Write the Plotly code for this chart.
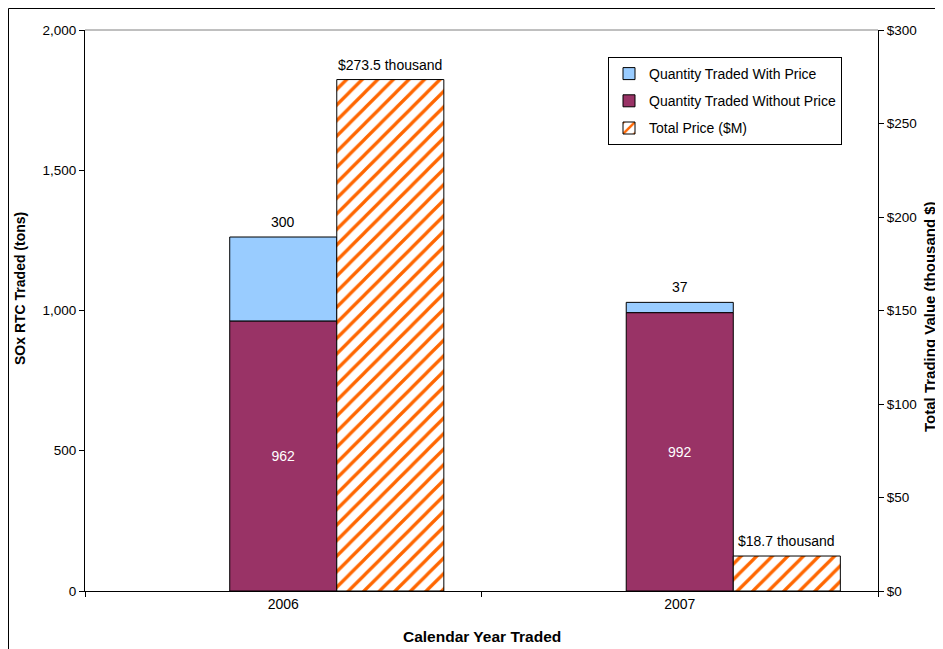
import plotly.graph_objects as go

years = ["2006", "2007"]
qty_with_price = [300, 37]
qty_without_price = [962, 992]
total_price_k = [273.5, 18.7]

FONT = "Liberation Sans, Arial, sans-serif"
# page has an 8px body margin; figure is drawn from (8, 8)
OFF = 8
W, H = 943 - OFF, 649 - OFF
ML, MR, MT, MB = 85 - OFF, 65, 30 - OFF, 58
PW, PH = W - ML - MR, H - MT - MB


def px_x(page_x):
    return (page_x - OFF - ML) / PW


def px_y(page_y):
    return 1 - (page_y - OFF - MT) / PH


BW = 0.27
FS = 14

fig = go.Figure()

fig.add_trace(go.Bar(
    x=years, y=qty_with_price, base=qty_without_price, name="Quantity Traded With Price",
    width=BW, offset=-BW / 2, marker=dict(color="#99CCFF", line=dict(color="black", width=1)),
    legendgroup="a", hoverinfo="skip",
))

fig.add_trace(go.Bar(
    x=years, y=qty_without_price, name="Quantity Traded Without Price",
    width=BW, offset=-BW / 2, marker=dict(color="#993366", line=dict(color="black", width=1)),
    text=[str(v) for v in qty_without_price], textposition="inside",
    insidetextanchor="middle", textfont=dict(color="white", size=FS, family=FONT),
    constraintext="none", legendgroup="b", hoverinfo="skip",
))

fig.add_trace(go.Bar(
    x=years, y=total_price_k, name="Total Price ($M)", yaxis="y2",
    width=BW, offset=BW / 2,
    marker=dict(color="white", line=dict(color="black", width=1),
                pattern=dict(shape="/", fgcolor="#FF6600", bgcolor="white",
                             size=11, solidity=0.3, fillmode="replace")),
    legendgroup="c", hoverinfo="skip",
))

# labels above bars, anchored to data values
for i, yr in enumerate(years):
    fig.add_annotation(x=i, y=qty_without_price[i] + qty_with_price[i], xref="x", yref="y",
                       text=str(qty_with_price[i]), showarrow=False, yanchor="bottom",
                       yshift=5, font=dict(size=FS, family=FONT, color="black"))
    fig.add_annotation(x=i + BW, y=total_price_k[i], xref="x", yref="y2",
                       text=f"${total_price_k[i]} thousand", showarrow=False, yanchor="bottom",
                       yshift=5, font=dict(size=FS, family=FONT, color="black"))

fig.update_layout(
    width=W, height=H,
    margin=dict(l=ML, r=MR, t=MT, b=MB, autoexpand=False),
    paper_bgcolor="white", plot_bgcolor="white",
    font=dict(family=FONT, size=FS, color="black"),
    barmode="overlay", showlegend=True,
    legend=dict(x=px_x(608), y=px_y(57), xanchor="left", yanchor="top",
                bordercolor="black", borderwidth=1, bgcolor="white",
                font=dict(size=FS, family=FONT), traceorder="grouped",
                itemwidth=30, tracegroupgap=6),
    xaxis=dict(type="category", tickson="boundaries", ticks="outside", ticklen=5,
               tickcolor="black", showline=True, linecolor="black", linewidth=1,
               showgrid=False, zeroline=False, range=[-0.5, 1.5],
               tickfont=dict(size=FS, family=FONT)),
    yaxis=dict(range=[0, 2000], dtick=500, tickformat=",", ticks="outside", ticklen=5,
               tickcolor="black", showline=True, linecolor="black", linewidth=1,
               showgrid=False, zeroline=False, tickfont=dict(size=13.5, family=FONT)),
    yaxis2=dict(range=[0, 300], dtick=50, tickprefix="$", ticks="outside", ticklen=5,
                tickcolor="black", showline=True, linecolor="black", linewidth=1,
                showgrid=False, zeroline=False, overlaying="y", side="right",
                tickfont=dict(size=13.5, family=FONT)),
    hovermode=False,
)

# plot area top border
fig.add_shape(type="line", xref="paper", yref="paper", x0=0, x1=1, y0=1, y1=1,
              line=dict(color="#808080", width=1))
# outer chart frame (left and top edges visible)
fig.add_shape(type="rect", xref="paper", yref="paper",
              x0=px_x(8.5), x1=px_x(970),
              y0=px_y(690), y1=px_y(8.5),
              line=dict(color="black", width=1), fillcolor="rgba(0,0,0,0)", layer="above")

fig.add_annotation(text="<b>SOx RTC Traded (tons)</b>", xref="paper", yref="paper",
                   x=px_x(20), y=px_y(289), textangle=-90, showarrow=False,
                   xanchor="center", yanchor="middle", font=dict(size=14, family=FONT))
fig.add_annotation(text="<b>Total Trading Value (thousand $)</b>", xref="paper", yref="paper",
                   x=px_x(929), y=px_y(317), textangle=-90, showarrow=False,
                   xanchor="center", yanchor="middle", font=dict(size=15, family=FONT))
fig.add_annotation(text="<b>Calendar Year Traded</b>", xref="paper", yref="paper",
                   x=0.5, y=px_y(636), showarrow=False,
                   xanchor="center", yanchor="middle", font=dict(size=15.5, family=FONT))

fig.write_html("out.html")
